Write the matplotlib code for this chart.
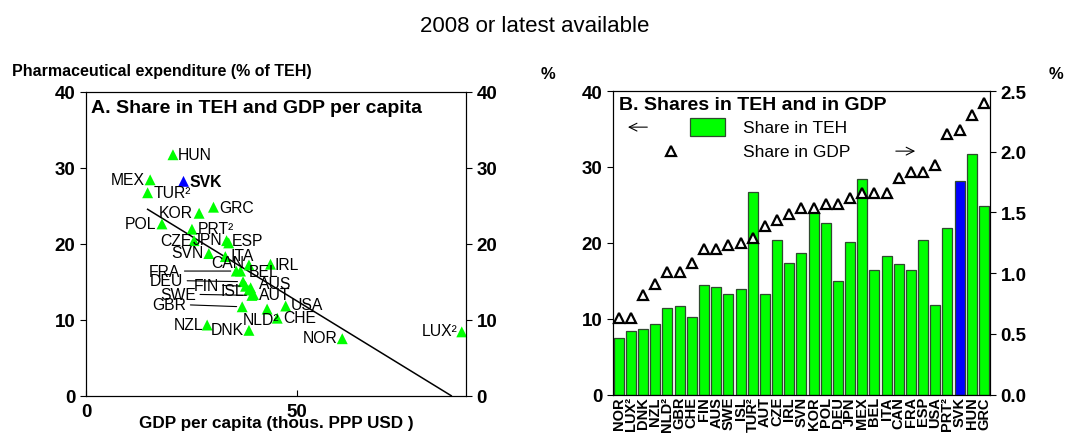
import numpy as np
import matplotlib
matplotlib.use('Agg')
import matplotlib.pyplot as plt
from matplotlib.patches import Rectangle

plt.rcParams['font.family'] = ['Liberation Sans', 'DejaVu Sans']

# countries in panel B order (sorted by share in GDP)
countries = ['NOR', 'LUX²', 'DNK', 'NZL', 'NLD²', 'GBR', 'CHE', 'FIN', 'AUS', 'SWE',
             'ISL', 'TUR²', 'AUT', 'CZE', 'IRL', 'SVN', 'KOR', 'POL', 'DEU', 'JPN',
             'MEX', 'BEL', 'ITA', 'CAN', 'FRA', 'ESP', 'USA', 'PRT²', 'SVK', 'HUN', 'GRC']
share_teh = [7.5, 8.4, 8.6, 9.3, 11.4, 11.7, 10.2, 14.4, 14.2, 13.2,
             13.9, 26.7, 13.3, 20.4, 17.3, 18.7, 24.0, 22.6, 15.0, 20.1,
             28.4, 16.4, 18.3, 17.2, 16.4, 20.4, 11.8, 21.9, 28.2, 31.7, 24.8]
share_gdp = [0.63, 0.63, 0.82, 0.91, 1.01, 1.01, 1.08, 1.20, 1.20, 1.23,
             1.25, 1.29, 1.39, 1.44, 1.49, 1.54, 1.54, 1.57, 1.57, 1.62,
             1.66, 1.66, 1.66, 1.78, 1.83, 1.83, 1.89, 2.15, 2.18, 2.30, 2.40]
gdp_pc = [60.7, 89.0, 38.6, 28.7, 42.9, 37.0, 45.3, 37.8, 39.0, 39.3,
          38.6, 14.6, 39.7, 25.6, 43.7, 29.1, 26.8, 18.0, 37.2, 33.8,
          15.2, 36.6, 33.0, 38.6, 35.6, 33.3, 47.3, 25.1, 23.1, 20.6, 30.2]
highlight = 'SVK'

# fitted trend in panel A
trend_slope = -0.341
trend_intercept = 29.5

# label layout for panel A: (dx, dy) in pixels, alignment, leader line
label_pos = {
    'HUN': (5, 0, 'left', False), 'MEX': (-5, 0, 'right', False),
    'SVK': (6, 0, 'left', False), 'TUR²': (6, 0, 'left', False),
    'GRC': (6, 0, 'left', False), 'KOR': (-6, 1, 'right', False),
    'POL': (-6, 0, 'right', False), 'PRT²': (6, 1, 'left', False),
    'CZE': (-2, 0, 'right', False), 'JPN': (-6, 3, 'right', False),
    'ESP': (5, 0, 'left', False), 'SVN': (-5, 1, 'right', False),
    'ITA': (5, 1, 'left', False), 'CAN': (-5, 2, 'right', False),
    'BEL': (8, 0, 'left', False), 'IRL': (4, 0, 'left', False),
    'FRA': (-56, 0, 'right', True), 'DEU': (-60, 1, 'right', True),
    'FIN': (-27, 1, 'right', True), 'ISL': (-5, 0, 'right', False),
    'SWE': (-56, 1, 'right', True), 'AUS': (8, 4, 'left', False),
    'AUT': (5, 0, 'left', False), 'GBR': (-56, 2, 'right', True),
    'USA': (5, 2, 'left', False), 'NLD²': (-6, -10, 'center', False),
    'CHE': (6, 1, 'left', False), 'NZL': (-4, 1, 'right', False),
    'DNK': (-5, 1, 'right', False), 'NOR': (-5, 1, 'right', False),
    'LUX²': (-4, 1, 'right', False),
}

GREEN = '#00FF00'
BLUE = '#0000FF'
TICK_FS = 13.5

fig = plt.figure(figsize=(10.68, 4.35), dpi=100)
fig.text(0.501, 0.94, '2008 or latest available', ha='center', va='center', fontsize=16)

colors = [BLUE if c == highlight else GREEN for c in countries]

def bold_ticks(ax):
    for lab in ax.get_xticklabels() + ax.get_yticklabels():
        lab.set_fontweight('bold')

# ---- panel A
axA = fig.add_axes([0.0805, 0.088, 0.3558, 0.699])
axA.scatter(gdp_pc, share_teh, marker='^', s=62, c=colors, edgecolors='none', zorder=3, clip_on=False)
x0 = min(gdp_pc)
x1 = -trend_intercept / trend_slope
xs = np.array([x0, x1])
axA.plot(xs, trend_intercept + trend_slope * xs, color='black', lw=1.1, zorder=2)

for c, x, y in zip(countries, gdp_pc, share_teh):
    dx, dy, ha, leader = label_pos[c]
    kw = {}
    if leader:
        kw['arrowprops'] = dict(arrowstyle='-', lw=0.8, color='black',
                                relpos=(1, 0.5), shrinkA=1, shrinkB=4)
    axA.annotate(c, (x, y), xytext=(dx, dy), textcoords='offset pixels',
                 ha=ha, va='center', fontsize=11.3,
                 fontweight='bold' if c == highlight else 'normal', zorder=4, **kw)

axA.set_xlim(0, 90)
axA.set_ylim(0, 40)
axA.set_xticks([0, 50])
axA.set_yticks([0, 10, 20, 30, 40])
axA.tick_params(axis='x', direction='in', length=4, labelsize=TICK_FS, pad=5)
axA.tick_params(axis='y', direction='out', length=4, labelsize=TICK_FS)
bold_ticks(axA)
axA.set_xlabel('GDP per capita (thous. PPP USD )', fontsize=12.3, fontweight='bold', labelpad=-3)
axA.text(0.014, 0.975, 'A. Share in TEH and GDP per capita', transform=axA.transAxes,
         ha='left', va='top', fontsize=14, fontweight='bold')
fig.text(0.011, 0.835, 'Pharmaceutical expenditure (% of TEH)', ha='left', va='center',
         fontsize=11.5, fontweight='bold')
axA2 = axA.twinx()
axA2.set_ylim(0, 40)
axA2.set_yticks([0, 10, 20, 30, 40])
axA2.tick_params(axis='y', direction='out', length=4, labelsize=TICK_FS)
bold_ticks(axA2)

# ---- panel B
axB = fig.add_axes([0.5737, 0.0904, 0.3533, 0.6981])
pos = np.arange(len(countries))
axB.bar(pos, share_teh, width=0.82, color=colors, edgecolor='#2f4a2f', linewidth=0.9, zorder=2)
axB.set_xlim(-0.5, len(countries) - 0.5)
axB.set_ylim(0, 40)
axB.set_yticks([0, 10, 20, 30, 40])
axB.set_xticks(pos)
axB.set_xticklabels(countries, rotation=90, fontsize=10.5)
axB.tick_params(axis='x', length=0, pad=1)
axB.tick_params(axis='y', direction='out', length=4, labelsize=TICK_FS)
bold_ticks(axB)

axB2 = axB.twinx()
axB2.plot(pos, share_gdp, linestyle='none', marker='^', ms=7, mfc='white', mec='black', mew=1.6,
          zorder=3, clip_on=False)
axB2.set_ylim(0, 2.5)
axB2.set_yticks([0, 0.5, 1.0, 1.5, 2.0, 2.5])
axB2.set_yticklabels(['0.0', '0.5', '1.0', '1.5', '2.0', '2.5'])
axB2.tick_params(axis='y', direction='out', length=4, labelsize=TICK_FS)
bold_ticks(axB2)

axB2.text(0.016, 0.955, 'B. Shares in TEH and in GDP', transform=axB2.transAxes,
          ha='left', va='center', fontsize=14, fontweight='bold')
# legend drawn by hand
axB2.add_patch(Rectangle((0.205, 0.852), 0.093, 0.059, transform=axB2.transAxes,
                         facecolor=GREEN, edgecolor='#2f4a2f', lw=0.9, zorder=5))
axB2.text(0.345, 0.881, 'Share in TEH', transform=axB2.transAxes, ha='left', va='center', fontsize=12.5)
axB2.plot([0.1545], [0.802], transform=axB2.transAxes, marker='^', ms=7, mfc='white',
          mec='black', mew=1.6, zorder=5)
axB2.text(0.345, 0.802, 'Share in GDP', transform=axB2.transAxes, ha='left', va='center', fontsize=12.5)
axB2.annotate('', xy=(0.033, 0.881), xytext=(0.099, 0.881), xycoords='axes fraction',
              arrowprops=dict(arrowstyle='->', lw=0.8, color='black', mutation_scale=14))
axB2.annotate('', xy=(0.809, 0.802), xytext=(0.743, 0.802), xycoords='axes fraction',
              arrowprops=dict(arrowstyle='->', lw=0.8, color='black', mutation_scale=14))

fig.text(0.513, 0.828, '%', ha='center', va='center', fontsize=12, fontweight='bold')
fig.text(0.989, 0.828, '%', ha='center', va='center', fontsize=12, fontweight='bold')

fig.savefig('out.png', dpi=100)
